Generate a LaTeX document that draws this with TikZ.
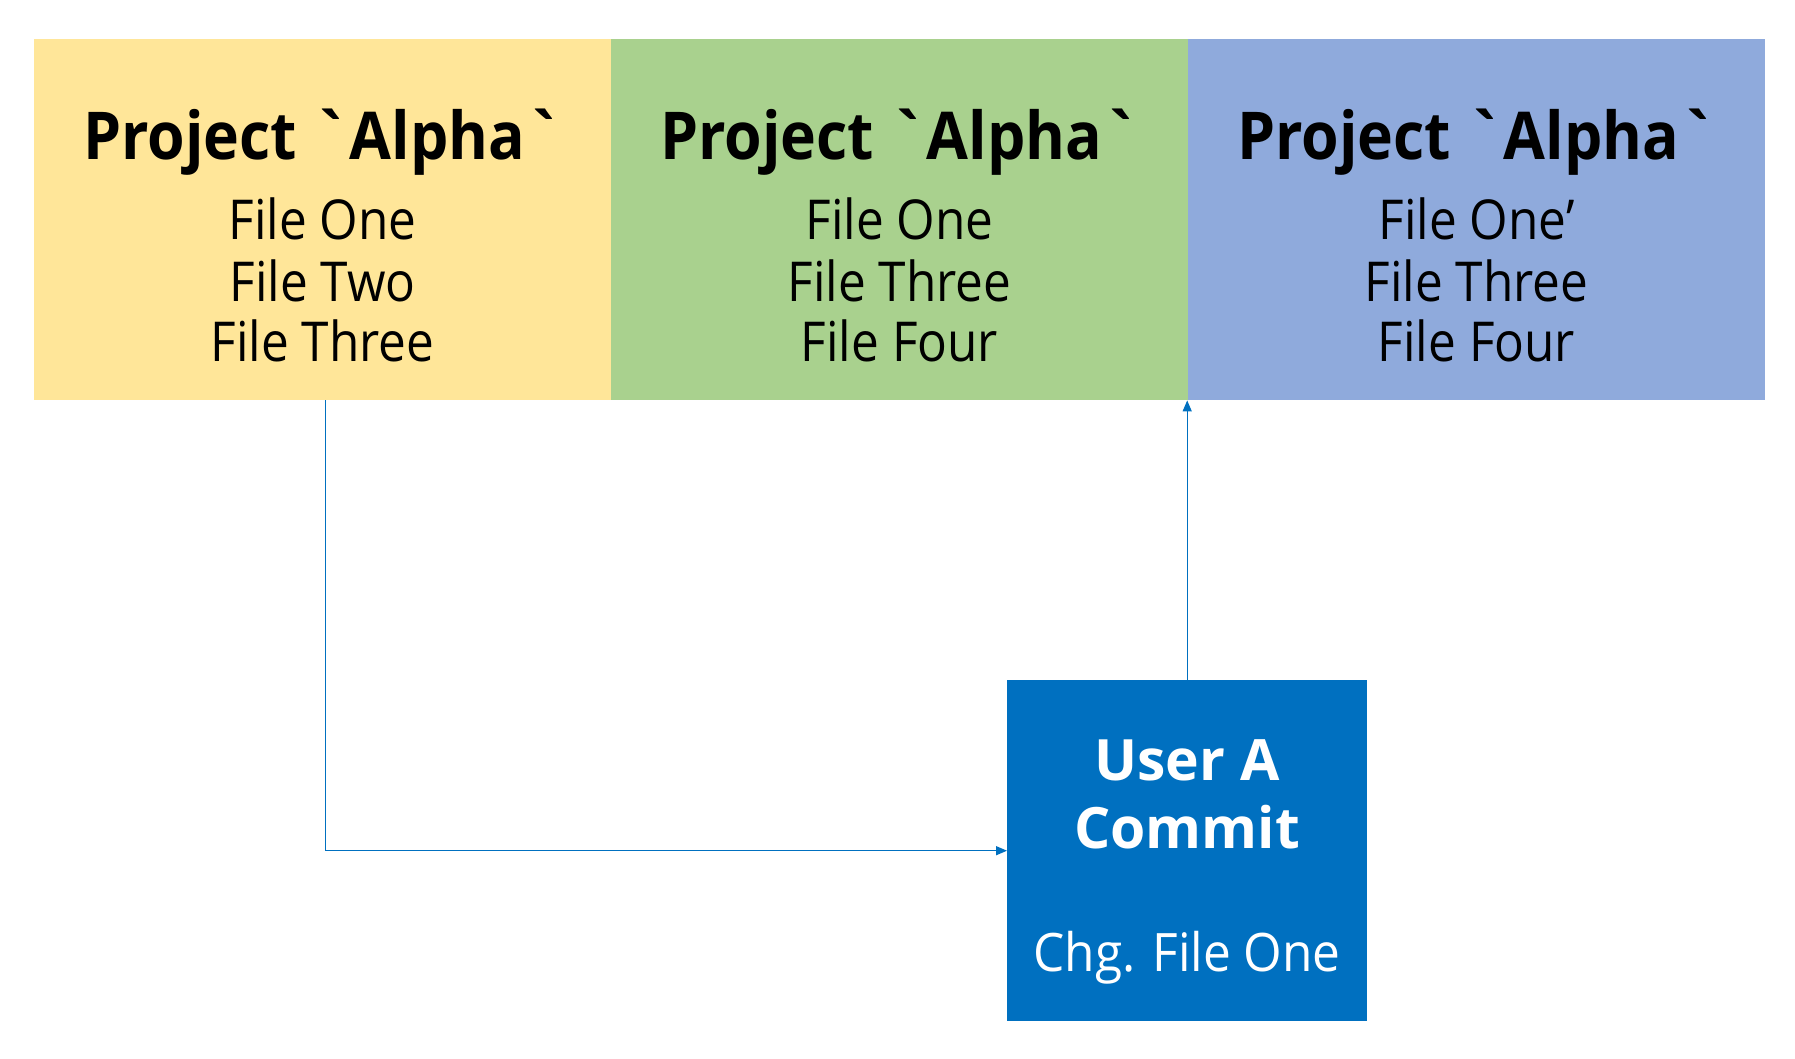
\documentclass[tikz,border=0pt]{standalone}
\usepackage{fontspec}
\setmainfont{Open Sans}[Ligatures=TeXOff]
\newfontfamily\ttlf{Open Sans}[FakeStretch=0.92, Ligatures=TeXOff]
\newfontfamily\regf{Open Sans}[FakeStretch=0.9, Ligatures=TeXOff]
\newfontfamily\cmf{Open Sans}[FakeStretch=0.935, Ligatures=TeXOff]
\usetikzlibrary{arrows.meta}
\definecolor{cyel}{HTML}{FFE699}
\definecolor{cgrn}{HTML}{A9D18E}
\definecolor{cblu}{HTML}{8FAADC}
\definecolor{cdark}{HTML}{0070C0}
\begin{document}
\begin{tikzpicture}[x=1pt,y=-1pt,
  proj/.style={rectangle, inner sep=0pt, minimum width=577pt, minimum height=361pt, anchor=north west},
  ttl/.style={anchor=base, inner sep=0pt, font=\ttlf\fontsize{66}{70}\selectfont\bfseries},
  fl/.style={anchor=base, inner sep=0pt, font=\regf\fontsize{55}{60}\selectfont},
  ctl/.style={anchor=base, inner sep=0pt, text=white, font=\fontsize{57}{62}\selectfont\bfseries},
  cfl/.style={anchor=base, inner sep=0pt, text=white, font=\cmf\fontsize{53}{60}\selectfont},
  arr/.style={draw=cdark, line width=1.4pt, -{Triangle[length=11pt,width=9pt]}}]
\useasboundingbox (0,0) rectangle (1795,1059);
\node[proj, fill=cyel] (p1) at (34,39) {};
\node[proj, fill=cgrn] (p2) at (611,39) {};
\node[proj, fill=cblu] (p3) at (1188,39) {};
\node[rectangle, inner sep=0pt, minimum width=360pt, minimum height=341pt, anchor=north west, fill=cdark] (commit) at (1007,680) {};
% texts box 1
\node[ttl] (t1) at (322.5,160) {Project `Alpha`};
\node[fl] (a1) at (322.5,240) {File One};
\node[fl] (a2) at (322.5,301) {File Two};
\node[fl] (a3) at (322.5,361) {File Three};
% box 2
\node[ttl] (t2) at (899.5,160) {Project `Alpha`};
\node[fl] (b1) at (899.5,240) {File One};
\node[fl] (b2) at (899.5,301) {File Three};
\node[fl] (b3) at (899.5,361) {File Four};
% box 3
\node[ttl] (t3) at (1476.5,160) {Project `Alpha`};
\node[fl] (c1) at (1476.5,240) {File One’};
\node[fl] (c2) at (1476.5,301) {File Three};
\node[fl] (c3) at (1476.5,361) {File Four};
% commit texts
\node[ctl] (u1) at (1187,780) {User A};
\node[ctl] (u2) at (1187,848) {Commit};
\node[cfl] (u3) at (1187,971) {Chg. File One};
% arrows
\draw[arr] ([xshift=2.5pt]p1.south) |- (commit.west);
\draw[arr] (commit.north) -- (commit.north |- p3.south west);
\end{tikzpicture}
\end{document}
